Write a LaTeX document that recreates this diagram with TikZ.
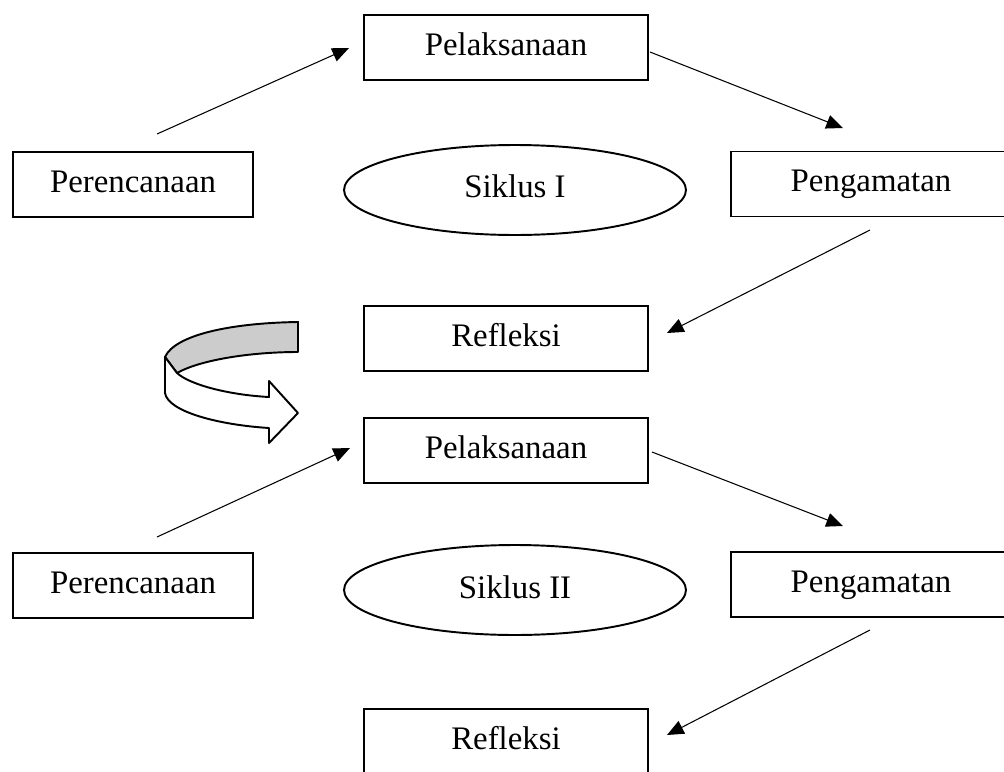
\documentclass[tikz,border=0pt]{standalone}
\usepackage{fontspec}
\setmainfont{Liberation Serif}
\usetikzlibrary{shapes.geometric,arrows.meta}
\begin{document}
\begin{tikzpicture}[x=0.02cm,y=-0.02cm,
  box/.style={draw,line width=1.1pt,minimum height=1.3cm,inner sep=0pt,text height=12.8pt,text depth=3.7pt,font=\fontsize{18.7}{22}\selectfont},
  cyc/.style={draw,ellipse,line width=1.1pt,minimum width=6.84cm,minimum height=1.8cm,inner sep=0pt,text height=12.8pt,text depth=3.7pt,font=\fontsize{18.7}{22}\selectfont},
  conn/.style={line width=0.6pt,-{Triangle[length=9.5pt,width=8pt]}},
  bigarrow/.style={draw,line width=1.1pt,line join=round}]
\useasboundingbox (0,0) rectangle (1004,771);
\clip (0,0) rectangle (1004,771);
% cycle I
\node[box,minimum width=5.68cm] (pel1) at (506,47.5) {Pelaksanaan};
\node[box,minimum width=4.8cm] (per1) at (133,184.5) {Perencanaan};
\node[box,minimum width=5.6cm] (pen1) at (871,184) {Pengamatan};
\node[cyc] (sik1) at (515,190) {Siklus I};
\node[box,minimum width=5.68cm] (ref1) at (506,338.5) {Refleksi};
% cycle II
\node[box,minimum width=5.68cm] (pel2) at (506,450.5) {Pelaksanaan};
\node[box,minimum width=4.8cm] (per2) at (133,585.5) {Perencanaan};
\node[box,minimum width=5.6cm] (pen2) at (871,584.5) {Pengamatan};
\node[cyc] (sik2) at (515,590) {Siklus II};
\node[box,minimum width=5.68cm] (ref2) at (506,741.5) {Refleksi};
% connector ends
\coordinate (a1s) at (157,134); \coordinate (a1e) at (349,48);
\coordinate (a2s) at (650,52);  \coordinate (a2e) at (843,128);
\coordinate (a3s) at (870,230); \coordinate (a3e) at (667,333);
\coordinate (a4s) at (157,537); \coordinate (a4e) at (350,448);
\coordinate (a5s) at (652,452); \coordinate (a5e) at (843,526);
\coordinate (a6s) at (870,630); \coordinate (a6e) at (667,735);
\draw[conn] (a1s) -- (a1e);
\draw[conn] (a2s) -- (a2e);
\draw[conn] (a3s) -- (a3e);
\draw[conn] (a4s) -- (a4e);
\draw[conn] (a5s) -- (a5e);
\draw[conn] (a6s) -- (a6e);
% curved transition arrow
\draw[bigarrow,fill=black!20] (298,322) .. controls (230,323) and (175,335) .. (165,357)
  -- (177,373) .. controls (200,360) and (250,352) .. (298,352) -- cycle;
\draw[bigarrow,fill=white] (165,357) -- (165,393) .. controls (168,412) and (220,425) .. (269,428)
  -- (269,443) -- (298,413) -- (269,381) -- (269,397)
  .. controls (230,395) and (190,385) .. (177,373) -- cycle;
\end{tikzpicture}
\end{document}
